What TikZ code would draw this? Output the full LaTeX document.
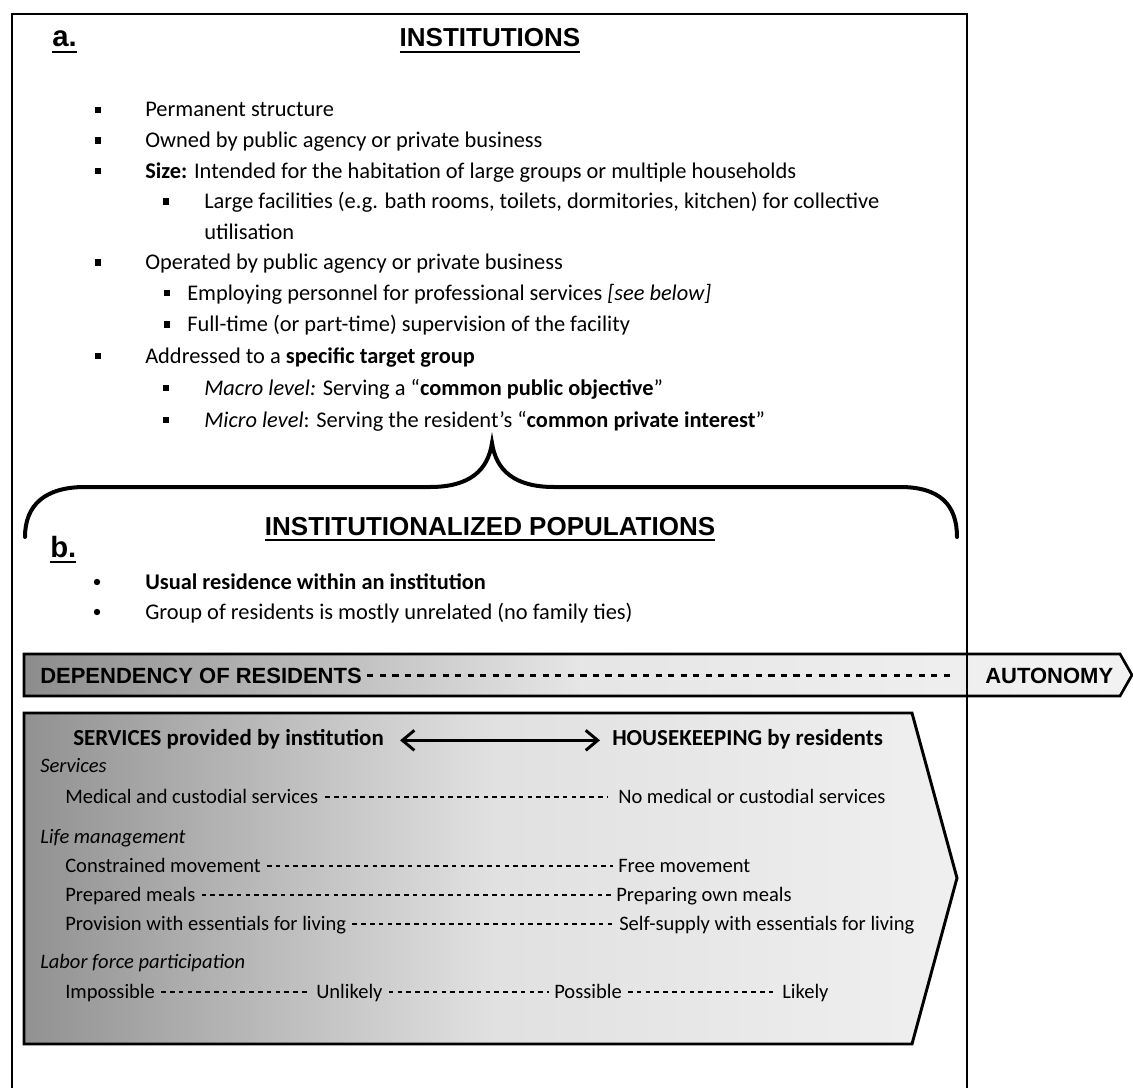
\documentclass[tikz,border=0pt]{standalone}
\usepackage{fontspec}
\setmainfont{Carlito}
\newfontfamily\headfont{Liberation Sans}
\usetikzlibrary{arrows.meta,calc}
\newcommand{\ulhead}[1]{\setbox0\hbox{#1}\rlap{\rule[-4.6pt]{\wd0}{1.7pt}}\box0}
\tikzset{
  outer/.style={line width=2pt},
  hd/.style={font=\headfont\bfseries\fontsize{19.5}{23}\selectfont, inner sep=0pt, anchor=base},
  lbl/.style={font=\headfont\bfseries\fontsize{22}{26}\selectfont, inner sep=0pt, anchor=base west},
  itm/.style={font=\fontsize{16.8}{20}\selectfont, inner sep=0pt, anchor=base west},
  sq/.style={fill, inner sep=0pt, minimum width=4.4pt, minimum height=5pt},
  rdot/.style={circle, fill, inner sep=0pt, minimum size=4.8pt},
  brace/.style={line width=3pt, line cap=round},
  bar/.style={draw, line width=2pt, left color=black!45, right color=black!5, middle color=black!10},
  svbox/.style={draw, line width=2.2pt, left color=black!43, right color=black!6, middle color=black!12},
  bartxt/.style={font=\headfont\bfseries\fontsize{16.5}{20}\selectfont, inner sep=0pt, anchor=base west},
  row/.style={font=\fontsize{15.4}{18}\selectfont, inner sep=0pt, anchor=base west},
  rowhd/.style={row, font=\bfseries\fontsize{17.2}{20}\selectfont},
  cat/.style={row, font=\itshape\fontsize{15.4}{18}\selectfont},
  dsh/.style={line width=1.1pt, dash pattern=on 3.4pt off 3.2pt},
  bardsh/.style={line width=1.9pt, dash pattern=on 4.6pt off 4.8pt},
  dbl/.style={{Straight Barb[length=9pt,width=15pt]}-{Straight Barb[length=9pt,width=15pt]}, line width=2.2pt},
}

\begin{document}
\begin{tikzpicture}[x=0.75pt, y=-0.75pt]
\useasboundingbox (0,0) rectangle (1133,1088);

% a. institutions
\node[lbl] (la) at (52,47) {\ulhead{a.}};
\node[hd] (tinst) at (490,47) {\ulhead{INSTITUTIONS}};
\node[itm] (a1) at (145,117) {Permanent structure};
\node[itm] (a2) at (145,147.5) {Owned by public agency or private business};
\node[itm] (a3) at (145,178) {\textbf{Size:} Intended for the habitation of large groups or multiple households};
\node[itm] (a4) at (204,208.5) {Large facilities (e.g. bath rooms, toilets, dormitories, kitchen) for collective};
\node[itm] (a5) at (204,239) {utilisation};
\node[itm] (a6) at (145,269.5) {Operated by public agency or private business};
\node[itm] (a7) at (187,300) {Employing personnel for professional services \textit{[see below]}};
\node[itm] (a8) at (187,331.5) {Full-time (or part-time) supervision of the facility};
\node[itm] (a9) at (145,363) {Addressed to a \textbf{specific target group}};
\node[itm] (a10) at (204,395) {\textit{Macro level:} Serving a “\textbf{common public objective}”};
\node[itm] (a11) at (204,427) {\textit{Micro level}: Serving the resident’s “\textbf{common private interest}”};
\foreach \n/\y in {q1/117, q2/147.5, q3/178, q4/269.5, q5/363} \node[sq] (\n) at (98,\y-7) {};
\foreach \n/\y in {s1/208.5, s2/395, s3/427} \node[sq] (\n) at (166,\y-7) {};
\foreach \n/\y in {t1/300, t2/331.5} \node[sq] (\n) at (167,\y-7) {};

% brace
\draw[brace] (25,537) .. controls (25,505) and (45,487) .. (85,487) -- (430,487)
  .. controls (470,487) and (488,470) .. (492,443)
  .. controls (496,470) and (514,487) .. (554,487) -- (900,487)
  .. controls (940,487) and (957,505) .. (957,537);

% b. populations
\node[hd] (tpop) at (490,535) {\ulhead{INSTITUTIONALIZED POPULATIONS}};
\node[lbl] (lb) at (50,557) {\ulhead{b.}};
\node[itm] (b1) at (145,589) {\textbf{Usual residence within an institution}};
\node[itm] (b2) at (145,619) {Group of residents is mostly unrelated (no family ties)};
\foreach \n/\y in {r1/589, r2/619} \node[rdot] (\n) at (97,\y-7) {};

% dependency bar
\draw[bar] (24,654) -- (1120,654) -- (1132,675) -- (1120,696) -- (24,696) -- cycle;
\node[bartxt] (dep) at (40,683) {DEPENDENCY OF RESIDENTS};
\node[bartxt] (aut) at (985,683) {AUTONOMY};
\coordinate (depend) at (953,677);
\draw[bardsh] ([xshift=4pt]dep.east) -- (dep.east -| depend);

\draw[outer] (12,1088) -- (12,14) -- (967,14) -- (967,1088);

% services vs housekeeping
\draw[svbox] (24,713) -- (912,713) -- (957,878) -- (912,1044) -- (24,1044) -- cycle;
\node[rowhd] (sv) at (73,745) {SERVICES provided by institution};
\node[rowhd] (hk) at (612,745) {HOUSEKEEPING by residents};
\draw[dbl] ([xshift=12pt,yshift=3.5pt]sv.base east) -- ([xshift=-9pt,yshift=3.5pt]hk.base west);
\node[cat] (c1) at (40,772) {Services};
\node[row] (m1) at (65,803) {Medical and custodial services};
\node[row] (m2) at (618,803) {No medical or custodial services};
\draw[dsh] ([xshift=5pt,yshift=4.5pt]m1.base east) -- ([xshift=-8pt,yshift=4.5pt]m2.base west);
\node[cat] (c2) at (40,843) {Life management};
\node[row] (l1) at (65,872) {Constrained movement};
\node[row] (l2) at (618,872) {Free movement};
\node[row] (l3) at (65,901) {Prepared meals};
\node[row] (l4) at (616,901) {Preparing own meals};
\node[row] (l5) at (65,930) {Provision with essentials for living};
\node[row] (l6) at (619,930) {Self-supply with essentials for living};
\node[cat] (c3) at (40,968) {Labor force participation};
\node[row] (p1) at (65,998) {Impossible};
\node[row] (p2) at (316,998) {Unlikely};
\node[row] (p3) at (554,998) {Possible};
\node[row] (p4) at (782,998) {Likely};
\foreach \a/\b in {l1/l2,l3/l4,l5/l6,p1/p2,p2/p3,p3/p4} \draw[dsh] ([xshift=4.5pt,yshift=4.5pt]\a.base east) -- ([xshift=-4pt,yshift=4.5pt]\b.base west);
\end{tikzpicture}
\end{document}
